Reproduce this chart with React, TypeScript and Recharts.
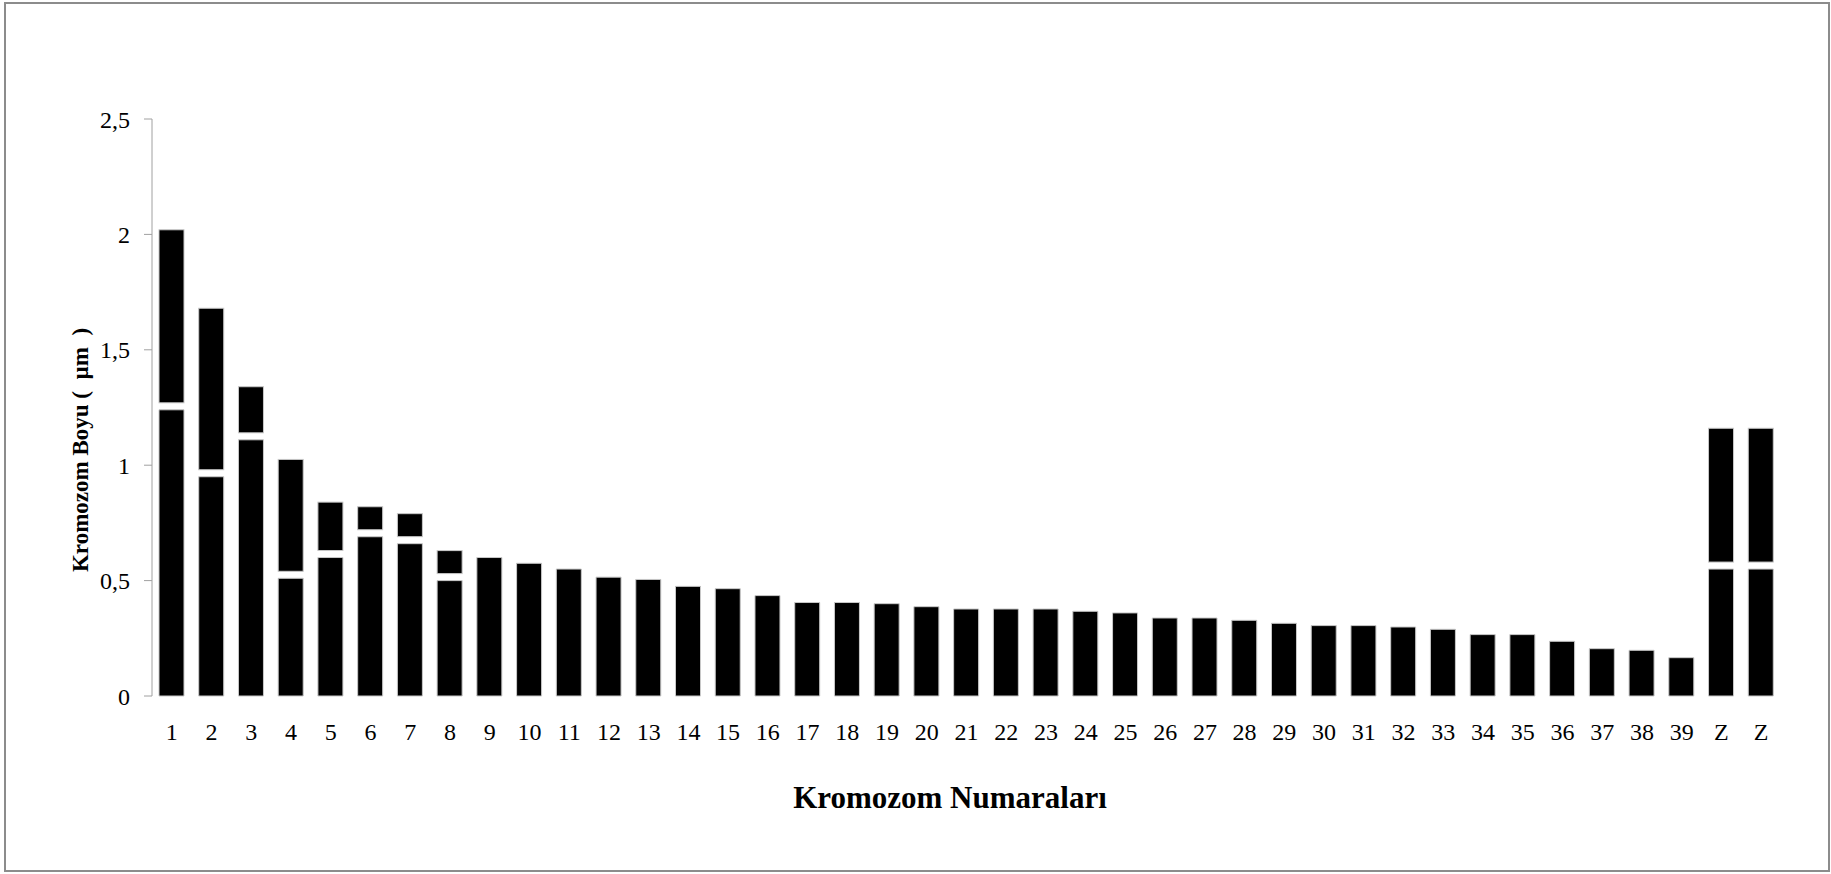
import { Bar, BarChart, Label, XAxis, YAxis } from 'recharts';

// kromozom numaraları (x ekseni)
const chromosomes = [
  '1', '2', '3', '4', '5', '6', '7', '8', '9', '10',
  '11', '12', '13', '14', '15', '16', '17', '18', '19', '20',
  '21', '22', '23', '24', '25', '26', '27', '28', '29', '30',
  '31', '32', '33', '34', '35', '36', '37', '38', '39', 'Z', 'Z',
];

// uzun kol (alt parça), µm
const longArm = [
  1.24, 0.95, 1.11, 0.51, 0.6, 0.69, 0.66, 0.5, 0.6, 0.575,
  0.55, 0.515, 0.505, 0.475, 0.465, 0.435, 0.405, 0.405, 0.4, 0.387,
  0.377, 0.377, 0.377, 0.367, 0.36, 0.338, 0.338, 0.328, 0.315, 0.305,
  0.305, 0.299, 0.289, 0.266, 0.266, 0.237, 0.205, 0.198, 0.166, 0.55, 0.55,
];

// kısa kol (üst parça), µm
const shortArm = [
  0.78, 0.73, 0.23, 0.515, 0.24, 0.13, 0.13, 0.13, 0, 0,
  0, 0, 0, 0, 0, 0, 0, 0, 0, 0,
  0, 0, 0, 0, 0, 0, 0, 0, 0, 0,
  0, 0, 0, 0, 0, 0, 0, 0, 0, 0.61, 0.61,
];

const yTicks = [0, 0.5, 1, 1.5, 2, 2.5];

const data = chromosomes.map((name, i) => ({ name, q: longArm[i], p: shortArm[i] }));

const FONT = '"Liberation Serif", "Times New Roman", serif';
const GAP = 7; // centromere white band

const ShortArm = (props: any) => {
  const { x, y, width, height } = props;
  if (!height || height <= GAP) return <g />;
  return <rect x={x} y={y} width={width} height={height - GAP} fill="#000" stroke="#c8c8c8" strokeWidth={1} />;
};

const App = () => {
  return (
    <div style={{ position: 'absolute', left: 0, top: 0, width: 1831, height: 874, background: '#fff' }}>
      <div
        style={{
          position: 'absolute', left: 4, top: 2, width: 1826, height: 870,
          border: '2px solid #8c8c8c', boxSizing: 'border-box',
        }}
      />
      <div style={{ position: 'absolute', left: 0, top: 0 }}>
        <BarChart width={1831} height={874} data={data} margin={{ top: 119, right: 50, bottom: 0, left: 0 }}>
          <XAxis
            dataKey="name"
            axisLine={false}
            tickLine={false}
            tickSize={0}
            tickMargin={27}
            interval={0}
            height={178}
            tick={{ fill: '#000', fontSize: 24, fontFamily: FONT }}
          >
            <Label
              content={() => (
                <text x={950} y={797} textAnchor="middle" dominantBaseline="central"
                  fontFamily={FONT} fontWeight="bold" fontSize={31} fill="#000">
                  Kromozom Numaraları
                </text>
              )}
            />
          </XAxis>
          <YAxis
            width={152}
            domain={[0, 2.5]}
            ticks={yTicks}
            tickFormatter={(v: number) => String(v).replace('.', ',')}
            axisLine={{ stroke: '#a0a0a0' }}
            tickLine={{ stroke: '#a0a0a0' }}
            tickSize={8}
            tickMargin={14}
            tick={{ fill: '#000', fontSize: 24, fontFamily: FONT }}
          >
            <Label
              content={() => (
                <text x={80} y={450} textAnchor="middle" dominantBaseline="central"
                  transform="rotate(-90 80 450)"
                  fontFamily={FONT} fontWeight="bold" fontSize={23} fill="#000" style={{ whiteSpace: 'pre' }}>
                  {'Kromozom Boyu (  µm  )'}
                </text>
              )}
            />
          </YAxis>
          <Bar dataKey="q" stackId="a" fill="#000" stroke="#c8c8c8" strokeWidth={1} barSize={25} isAnimationActive={false} />
          <Bar dataKey="p" stackId="a" fill="#000" barSize={25} shape={ShortArm} isAnimationActive={false} />
        </BarChart>
      </div>
    </div>
  );
};

export default App;
